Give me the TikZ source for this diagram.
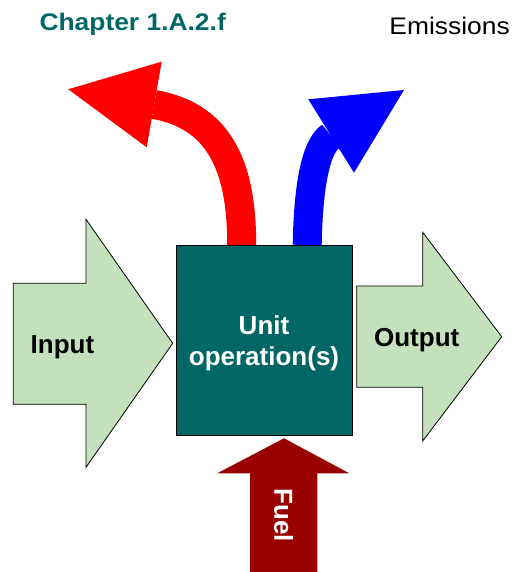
\documentclass[tikz,border=0pt]{standalone}
\usepackage{fontspec}
\setmainfont{Liberation Sans}
\usepackage{tikz}

\definecolor{unitteal}{RGB}{0,102,102}
\definecolor{flowgreen}{RGB}{195,225,187}
\definecolor{fuelred}{RGB}{153,0,0}

\begin{document}
\begin{tikzpicture}[x=1pt,y=1pt,
    flow_arrow/.style={draw=black,line width=0.8pt,fill=flowgreen,line join=miter},
    big_text/.style={font=\fontsize{26}{31}\selectfont\bfseries,inner sep=0pt,align=center},
    head_text/.style={font=\fontsize{24}{29}\selectfont,inner sep=0pt,xscale=1.1},
    emission/.style={line width=29pt}]

    \useasboundingbox (0,0) rectangle (514,572);

    \node[head_text, anchor=base west, text=unitteal, font=\fontsize{24}{29}\selectfont\bfseries] (chapter) at (39.3,541.3) {Chapter 1.A.2.f};
    \node[head_text, anchor=base east] (emissions) at (510,537.7) {Emissions};

    \draw[flow_arrow] (13.3,288.7) -- (86,288.7) -- (86,352.7) -- (172.7,228.7) -- (86,104.7) -- (86,167.7) -- (13.3,167.7) -- cycle;
    \draw[flow_arrow] (356.7,286) -- (422.7,286) -- (422.7,339.7) -- (501.7,235.3) -- (422.7,131) -- (422.7,184.7) -- (356.7,184.7) -- cycle;
    \node[big_text, anchor=base] (input) at (62.5,218) {Input};
    \node[big_text, anchor=base] (output) at (416.7,225.3) {Output};

    \node[draw=black, line width=1pt, fill=unitteal, minimum width=176pt, minimum height=190pt] (unit) at (264,231) {};
    \node[big_text, text=white] (unit_text) at ([yshift=-2.6pt]unit.center) {Unit\\operation(s)};

    \coordinate (red_base) at (154.2,467.5);
    \coordinate (blue_base) at (331.2,436);
    \draw[emission, red] ([xshift=-22.3pt, yshift=0.5pt]unit.north) to[out=90, in=-10, looseness=1.1] (red_base);
    \fill[red] (161.7,510.3) -- (68.3,482.7) -- (146.7,424.7) -- cycle;
    \draw[emission, blue] ([xshift=43.2pt, yshift=0.5pt]unit.north) to[out=89, in=212, out looseness=1, in looseness=0.5] (blue_base);
    \fill[blue] (308.3,472.7) -- (404,482) -- (354,399.3) -- cycle;

    \fill[fuelred] (250,-1) -- (250,98.7) -- (217.3,98.7) -- (284,133.7) -- (349.3,98.7) -- (317.3,98.7) -- (317.3,-1) -- cycle;
    \node[big_text, text=white, rotate=-90] (fuel) at (283.7,56.7) {Fuel};
\end{tikzpicture}
\end{document}
